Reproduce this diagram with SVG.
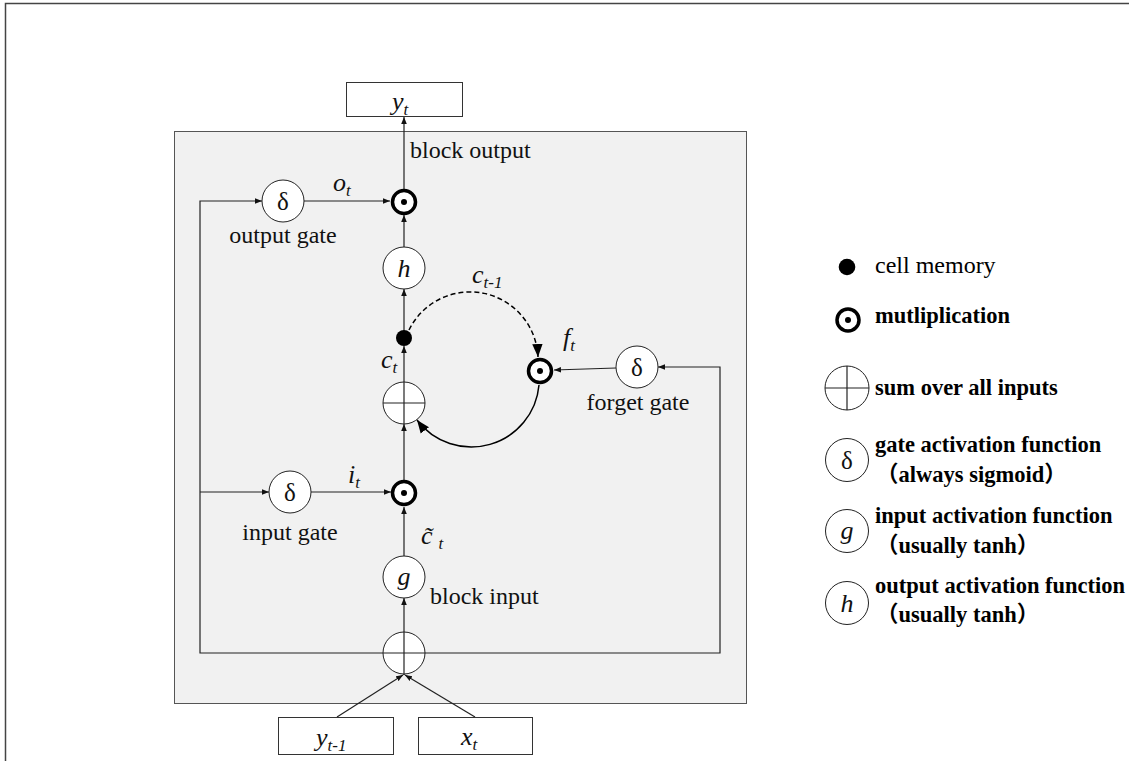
<svg xmlns="http://www.w3.org/2000/svg" width="1129" height="761" viewBox="0 0 1129 761">
  <style>
    .lbl { font-family: "Liberation Serif", "Times New Roman", serif; font-size: 24px; fill: #111; }
    .leg { font-family: "Liberation Serif", "Noto Sans CJK SC", serif; font-size: 22.5px; fill: #000; font-weight: bold; }
    .leg-n { font-family: "Liberation Serif", "Times New Roman", serif; font-size: 24px; fill: #000; }
    .var { font-family: "Liberation Serif", "Times New Roman", serif; font-style: italic; font-size: 26px; fill: #111; }
    .sub { font-size: 17px; }
    .greek { font-family: "Liberation Serif", "Times New Roman", serif; font-size: 25px; fill: #111; }
    .node { fill: #fff; stroke: #222; stroke-width: 1; }
    .mul { fill: #fff; stroke: #000; stroke-width: 3.5; }
    .box { fill: #fff; stroke: #333; stroke-width: 1; }
    .wire { fill: none; stroke: #222; stroke-width: 1.2; }
    .arc { fill: none; stroke: #000; stroke-width: 1.5; }
  </style>
  <defs>
    <marker id="ah" viewBox="0 0 10 10" refX="10" refY="5" markerWidth="7" markerHeight="7" markerUnits="userSpaceOnUse" orient="auto">
      <path d="M0,1 L10,5 L0,9 z" fill="#111"/>
    </marker>
    <marker id="ahb" viewBox="0 0 10 10" refX="10" refY="5" markerWidth="13" markerHeight="13" markerUnits="userSpaceOnUse" orient="auto">
      <path d="M0,1 L10,5 L0,9 z" fill="#000"/>
    </marker>
  </defs>

  <!-- page frame -->
  <path d="M5.5,761 V3.5 H1129" fill="none" stroke="#444" stroke-width="1.5"/>

  <!-- LSTM block body -->
  <rect x="174.5" y="131.5" width="572" height="572" fill="#f1f1f1" stroke="#555" stroke-width="1"/>

  <!-- connectors -->
  <g id="connectors">
    <!-- main vertical path -->
    <line class="wire" x1="404" y1="675" x2="404" y2="598" marker-end="url(#ah)"/>
    <line class="wire" x1="404" y1="556" x2="404" y2="507" marker-end="url(#ah)"/>
    <line class="wire" x1="404" y1="480" x2="404" y2="424" marker-end="url(#ah)"/>
    <line class="wire" x1="404" y1="382" x2="404" y2="346" marker-end="url(#ah)"/>
    <line class="wire" x1="404" y1="331" x2="404" y2="289" marker-end="url(#ah)"/>
    <line class="wire" x1="404" y1="247" x2="404" y2="215" marker-end="url(#ah)"/>
    <line class="wire" x1="404" y1="189" x2="404" y2="117" marker-end="url(#ah)"/>
    <!-- recurrent feedback bus -->
    <polyline class="wire" points="404,653 200,653 200,201 262,201" marker-end="url(#ah)"/>
    <line class="wire" x1="200" y1="492" x2="269" y2="492" marker-end="url(#ah)"/>
    <polyline class="wire" points="404,653 720,653 720,367 658,367" marker-end="url(#ah)"/>
    <!-- gate outputs into multipliers -->
    <line class="wire" x1="304" y1="201" x2="390" y2="201" marker-end="url(#ah)"/>
    <line class="wire" x1="311" y1="492" x2="391" y2="492" marker-end="url(#ah)"/>
    <line class="wire" x1="616" y1="368" x2="554" y2="370" marker-end="url(#ah)"/>
    <!-- external inputs -->
    <line class="wire" x1="337" y1="717" x2="403" y2="675" marker-end="url(#ah)"/>
    <line class="wire" x1="475" y1="717" x2="405" y2="675" marker-end="url(#ah)"/>
    <!-- recurrent cell state -->
    <path class="arc" d="M409,330 A68,68 0 0 1 538,357" stroke-dasharray="5,3" marker-end="url(#ahb)"/>
    <path class="arc" d="M539,385 A68,68 0 0 1 417,420" marker-end="url(#ahb)"/>
  </g>

  <!-- output box -->
  <g id="node-yt">
    <rect class="box" x="346.5" y="82.5" width="116" height="34"/>
    <text class="var" x="392" y="110">y<tspan class="sub" dy="5">t</tspan></text>
  </g>

  <!-- input boxes -->
  <g id="node-yprev">
    <rect class="box" x="278.5" y="717.5" width="115" height="37"/>
    <text class="var" x="316" y="746">y<tspan class="sub" dy="5">t-1</tspan></text>
  </g>
  <g id="node-xt">
    <rect class="box" x="418.5" y="717.5" width="114" height="37"/>
    <text class="var" x="461" y="745">x<tspan class="sub" dy="5">t</tspan></text>
  </g>

  <!-- output gate -->
  <g id="node-output-gate">
    <circle class="node" cx="283" cy="201" r="21"/>
    <text class="greek" x="283" y="210" text-anchor="middle">δ</text>
    <text class="lbl" x="283" y="243" text-anchor="middle">output gate</text>
    <text class="var" x="333" y="191">o<tspan class="sub" dy="5">t</tspan></text>
  </g>

  <!-- output multiplier -->
  <g id="node-output-mul">
    <circle class="mul" cx="404" cy="202" r="11.5"/>
    <circle cx="404" cy="202" r="3" fill="#000"/>
    <text class="lbl" x="410" y="158">block output</text>
  </g>

  <!-- output activation -->
  <g id="node-h">
    <circle class="node" cx="404" cy="268" r="21"/>
    <text class="var" x="404" y="277" text-anchor="middle">h</text>
  </g>

  <!-- cell memory -->
  <g id="node-cell">
    <circle cx="404" cy="338" r="8" fill="#000"/>
    <text class="var" x="381" y="368">c<tspan class="sub" dy="5">t</tspan></text>
    <text class="var" x="472" y="283">c<tspan class="sub" dy="5">t-1</tspan></text>
  </g>

  <!-- cell sum -->
  <g id="node-cell-sum">
    <circle class="node" cx="404" cy="403" r="21"/>
    <line class="wire" x1="383" y1="403" x2="425" y2="403"/>
    <line class="wire" x1="404" y1="382" x2="404" y2="424"/>
  </g>

  <!-- forget multiplier -->
  <g id="node-forget-mul">
    <circle class="mul" cx="540" cy="371" r="11.5"/>
    <circle cx="540" cy="371" r="3" fill="#000"/>
    <text class="var" x="563" y="346">f<tspan class="sub" dy="5">t</tspan></text>
  </g>

  <!-- forget gate -->
  <g id="node-forget-gate">
    <circle class="node" cx="637" cy="367" r="21"/>
    <text class="greek" x="637" y="376" text-anchor="middle">δ</text>
    <text class="lbl" x="638" y="410" text-anchor="middle">forget gate</text>
  </g>

  <!-- input gate -->
  <g id="node-input-gate">
    <circle class="node" cx="290" cy="492" r="21"/>
    <text class="greek" x="290" y="501" text-anchor="middle">δ</text>
    <text class="lbl" x="290" y="540" text-anchor="middle">input gate</text>
    <text class="var" x="348" y="483">i<tspan class="sub" dy="5">t</tspan></text>
  </g>

  <!-- input multiplier -->
  <g id="node-input-mul">
    <circle class="mul" cx="404" cy="493" r="11.5"/>
    <circle cx="404" cy="493" r="3" fill="#000"/>
    <text class="var" x="421" y="544">c̃<tspan class="sub" dx="6" dy="5">t</tspan></text>
  </g>

  <!-- input activation -->
  <g id="node-g">
    <circle class="node" cx="404" cy="577" r="21"/>
    <text class="var" x="404" y="585" text-anchor="middle">g</text>
    <text class="lbl" x="430" y="604">block input</text>
  </g>

  <!-- input sum -->
  <g id="node-input-sum">
    <circle class="node" cx="404" cy="653" r="21"/>
    <line class="wire" x1="383" y1="653" x2="425" y2="653"/>
    <line class="wire" x1="404" y1="632" x2="404" y2="675"/>
  </g>

  <!-- legend -->
  <g id="legend">
    <circle cx="847" cy="267" r="8.3" fill="#000"/>
    <text class="leg-n" x="875" y="273">cell memory</text>

    <circle class="mul" cx="848" cy="320" r="11"/>
    <circle cx="848" cy="320" r="3" fill="#000"/>
    <text class="leg" x="875" y="323">mutliplication</text>

    <circle class="node" cx="847" cy="388" r="22"/>
    <line class="wire" x1="825" y1="388" x2="869" y2="388"/>
    <line class="wire" x1="847" y1="366" x2="847" y2="410"/>
    <text class="leg" x="875" y="395">sum over all inputs</text>

    <circle class="node" cx="847" cy="460" r="21.5"/>
    <text class="greek" x="847" y="469" text-anchor="middle">δ</text>
    <text class="leg" x="875" y="452">gate activation function</text>
    <text class="leg" x="876" y="482">（always sigmoid）</text>

    <circle class="node" cx="847" cy="531" r="21.5"/>
    <text class="var" x="847" y="539" text-anchor="middle">g</text>
    <text class="leg" x="875" y="523">input activation function</text>
    <text class="leg" x="876" y="553">（usually tanh）</text>

    <circle class="node" cx="847" cy="603" r="21.5"/>
    <text class="var" x="847" y="612" text-anchor="middle">h</text>
    <text class="leg" x="875" y="593">output activation function</text>
    <text class="leg" x="876" y="622">（usually tanh）</text>
  </g>
</svg>
